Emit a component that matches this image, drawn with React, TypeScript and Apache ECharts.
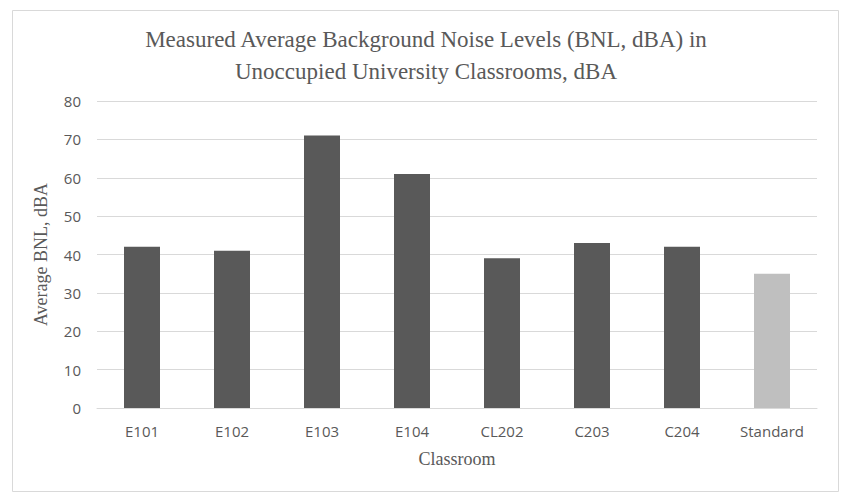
import React, { useEffect, useRef } from "react";
import * as echarts from "echarts";

const categories = ["E101", "E102", "E103", "E104", "CL202", "C203", "C204", "Standard"];
const values = [42, 41, 71, 61, 39, 43, 42, 35];
const barColors = ["#595959", "#595959", "#595959", "#595959", "#595959", "#595959", "#595959", "#bfbfbf"];

export default function App() {
  const ref = useRef<HTMLDivElement>(null);
  useEffect(() => {
    const chart = echarts.init(ref.current!, null, { renderer: "svg" });
    chart.setOption({
      animation: false,
      backgroundColor: "#ffffff",
      graphic: [
        {
          type: "rect",
          shape: { x: 12.5, y: 10.5, width: 826, height: 481 },
          style: { fill: "none", stroke: "#d9d9d9", lineWidth: 1 },
          silent: true,
        },
      ],
      title: {
        text: "Measured Average Background Noise Levels (BNL, dBA) in\nUnoccupied University Classrooms, dBA",
        left: 421,
        top: 18,
        textAlign: "center",
        textStyle: {
          fontFamily: "Liberation Serif",
          fontSize: 23,
          fontWeight: "normal",
          color: "#595959",
          lineHeight: 32,
        },
      },
      grid: { left: 97, right: 36, top: 101, bottom: 96, containLabel: false },
      xAxis: {
        type: "category",
        data: categories,
        name: "Classroom",
        nameLocation: "middle",
        nameGap: 42,
        nameTextStyle: { fontFamily: "Liberation Serif", fontSize: 18, color: "#595959" },
        axisLine: { lineStyle: { color: "#d9d9d9" } },
        axisTick: { show: false },
        axisLabel: { fontFamily: "Open Sans", fontSize: 15, color: "#595959", margin: 15 },
      },
      yAxis: {
        type: "value",
        min: 0,
        max: 80,
        interval: 10,
        name: "Average BNL, dBA",
        nameLocation: "middle",
        nameGap: 47,
        nameTextStyle: { fontFamily: "Liberation Serif", fontSize: 18, color: "#595959" },
        axisLine: { show: false },
        axisTick: { show: false },
        splitLine: { lineStyle: { color: "#d9d9d9" } },
        axisLabel: { fontFamily: "Open Sans", fontSize: 15, color: "#595959", margin: 16 },
      },
      series: [
        {
          type: "bar",
          barWidth: "40%",
          data: values.map((v, i) => ({ value: v, itemStyle: { color: barColors[i] } })),
        },
      ],
    });
    return () => chart.dispose();
  }, []);
  return (
    <div
      ref={ref}
      style={{ position: "fixed", left: 0, top: 0, width: 853, height: 504 }}
    />
  );
}
